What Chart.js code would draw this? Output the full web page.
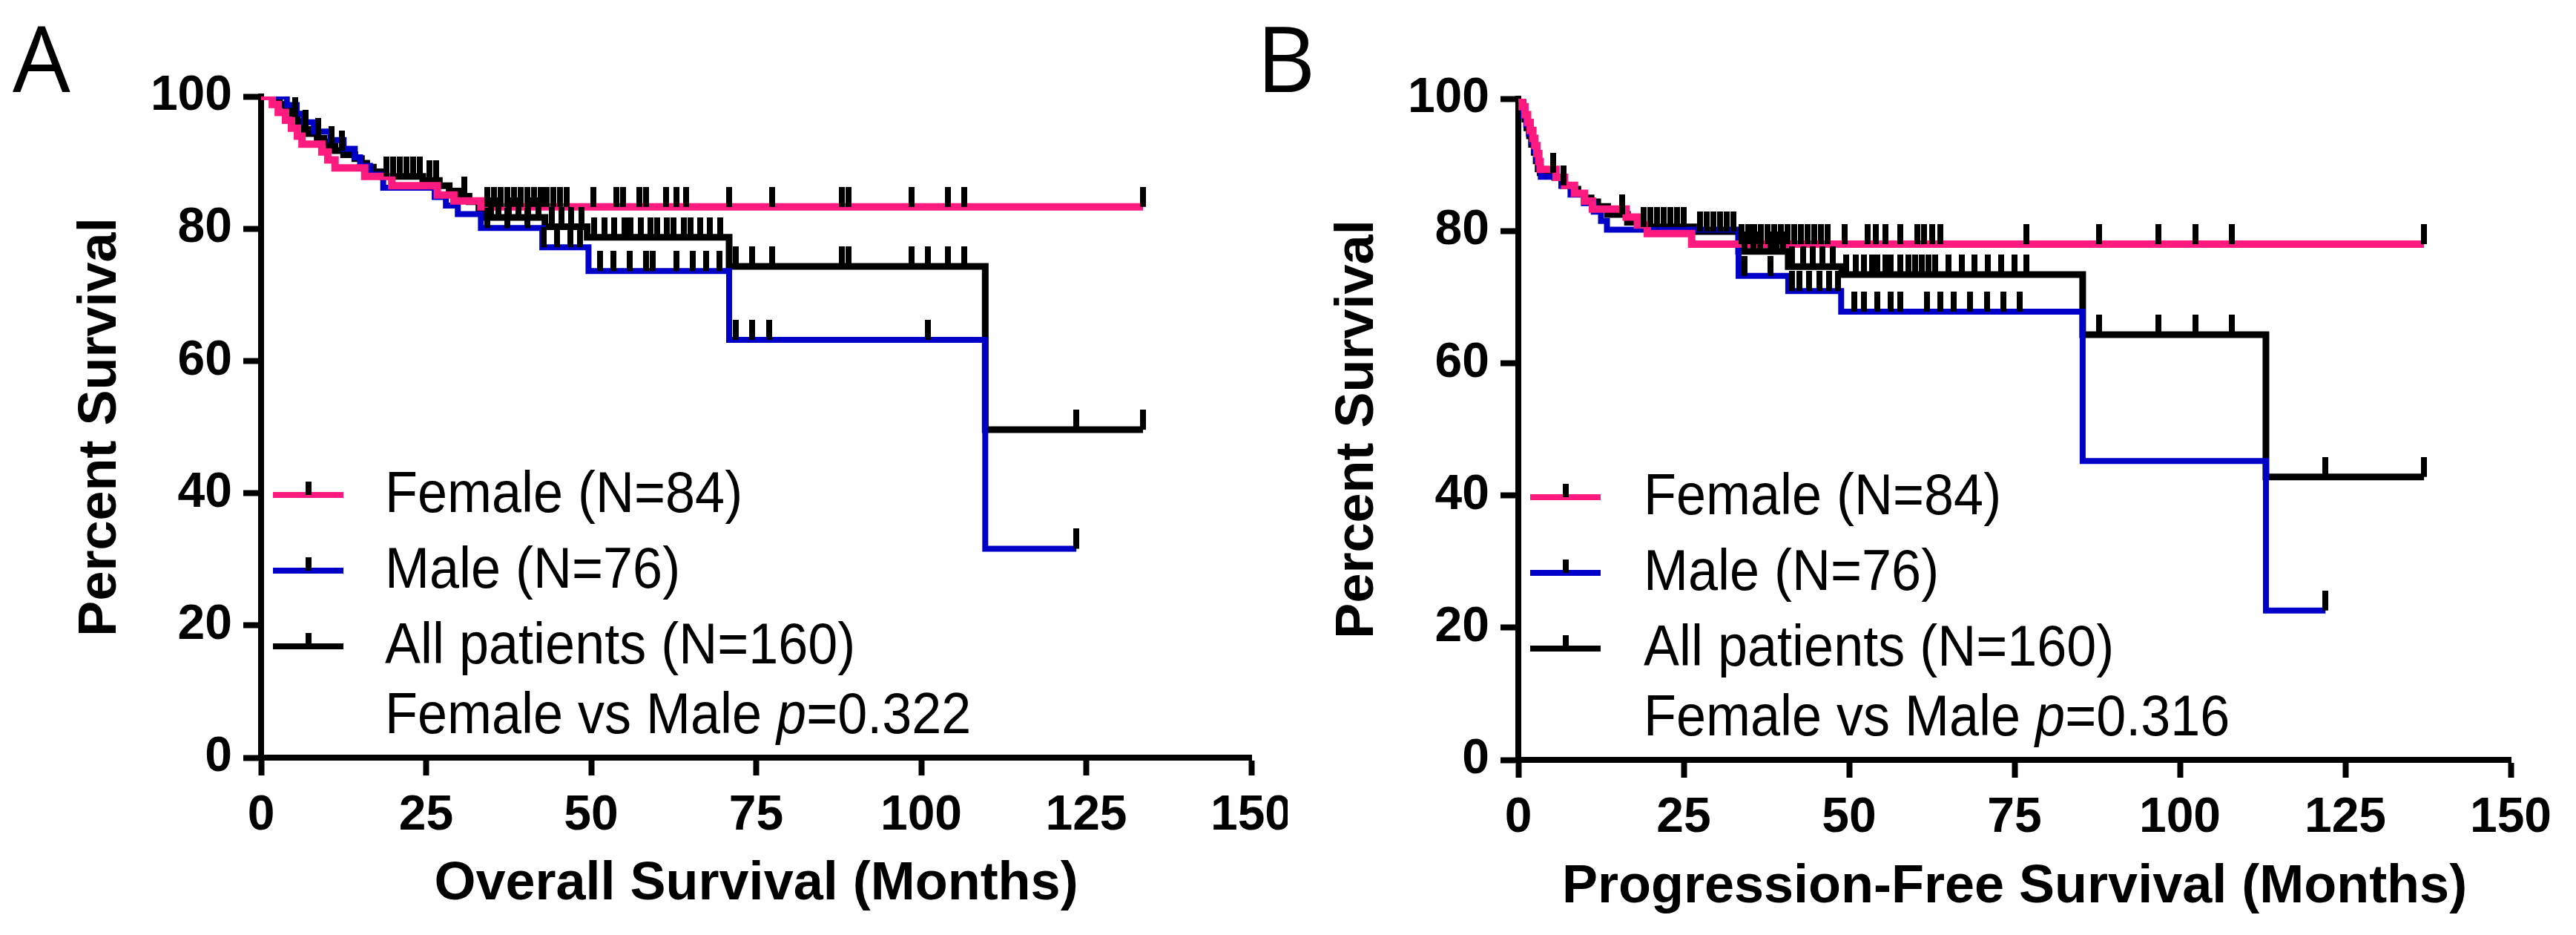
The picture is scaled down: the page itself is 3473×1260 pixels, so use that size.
<!DOCTYPE html>
<html>
<head>
<meta charset="utf-8">
<script src="https://cdn.jsdelivr.net/npm/chart.js@4.4.1/dist/chart.umd.min.js"></script>
<style>
  html, body { margin: 0; padding: 0; background: #fff; }
  body { width: 3473px; height: 1260px; position: relative; overflow: hidden; }
  canvas { position: absolute; top: 0; }
  #chartA { left: 0; }
  #chartB { left: 1736px; }
  .panel { position: absolute; top: 15px; font-family: "Open Sans", sans-serif; font-size: 123px; line-height: 123px; color: #000; }
</style>
</head>
<body>
<div class="panel" style="left:17px">A</div>
<div class="panel" style="left:1694px">B</div>
<canvas id="chartA" width="1736" height="1260"></canvas>
<canvas id="chartB" width="1737" height="1260"></canvas>
<script>
const xTicks = [0, 25, 50, 75, 100, 125, 150];
const yTicks = [0, 20, 40, 60, 80, 100];
const seriesLabels = ["Female (N=84)", "Male (N=76)", "All patients (N=160)"];
const seriesColors = ["#ff1a80", "#0000c8", "#000000"];
const seriesWidths = [10, 8, 9];

// Overall survival (A)
const osFemaleTimes = [1.7, 2.6, 3.7, 4.6, 5.5, 6.2, 9.2, 10.1, 11.2, 15.7, 19.8, 26.7, 29.2, 33.3];
const osFemaleSurv = [98.8, 97.6, 96.4, 95.2, 94.0, 92.8, 91.6, 90.4, 89.2, 87.9, 86.5, 85.1, 84.2, 83.3];
const osFemaleEnd = 133.6;
const osFemaleCensor = [34.3, 35.3, 36.3, 37.3, 38.3, 39.3, 40.3, 41.3, 42.4, 43.3, 44.3, 45.3, 46.3, 50.3, 53.8, 54.8, 57.3, 58.3, 61.3, 62.9, 64.4, 70.9, 77.4, 88.0, 89.0, 98.5, 104.0, 106.5, 133.6];

const osMaleTimes = [3.9, 5.4, 6.5, 8.0, 10.5, 12.5, 14.2, 15.0, 16.5, 18.5, 26.3, 28.0, 29.8, 33.3, 42.6, 49.6, 70.9, 109.7];
const osMaleSurv = [98.7, 97.4, 96.1, 94.7, 93.4, 92.1, 90.8, 89.5, 88.2, 86.2, 84.8, 83.5, 82.2, 80.1, 77.2, 73.6, 63.2, 31.6];
const osMaleEnd = 123.5;
const osMaleCensor = [34.3, 37.3, 40.3, 42.8, 44.8, 46.9, 48.3, 51.3, 53.4, 55.8, 58.3, 59.3, 62.9, 65.4, 67.4, 69.4, 71.9, 74.4, 77.0, 101.0, 123.5];

const osAllTimes = [2.0, 2.8, 3.7, 4.3, 4.8, 5.5, 6.3, 7.2, 8.5, 9.5, 10.3, 11.2, 12.5, 14.2, 15.2, 16.0, 17.0, 18.3, 24.5, 27.0, 28.5, 30.0, 31.5, 33.0, 34.0, 43.0, 49.4, 70.9, 109.7];
const osAllSurv = [99.4, 98.8, 98.1, 97.5, 96.9, 96.2, 95.0, 94.4, 93.7, 93.1, 92.5, 91.8, 91.2, 90.6, 89.9, 89.3, 88.6, 87.9, 87.3, 86.5, 85.7, 84.9, 84.1, 82.9, 81.7, 80.3, 78.7, 74.3, 49.6];
const osAllEnd = 133.6;
const osAllCensor = [5.2, 6.7, 8.7, 10.7, 12.2, 19.0, 20.0, 21.0, 22.0, 23.0, 24.0, 25.5, 26.5, 30.8, 34.8, 36.0, 37.5, 39.0, 40.5, 42.0, 44.0, 45.5, 47.0, 48.5, 50.5, 52.0, 53.5, 55.0, 56.0, 57.5, 59.0, 60.0, 61.5, 62.5, 64.0, 65.0, 66.5, 68.0, 69.5, 71.9, 74.4, 77.4, 88.0, 89.0, 98.5, 101.0, 104.0, 106.5, 123.5, 133.6];

// Progression-free survival (B)
const pfsFemaleTimes = [0.6, 1.0, 1.4, 1.8, 2.2, 2.5, 2.8, 3.1, 3.3, 5.7, 7.0, 8.5, 10.0, 11.2, 16.3, 18.0, 19.5, 26.2];
const pfsFemaleSurv = [98.8, 97.6, 96.4, 95.2, 94.0, 92.9, 91.7, 90.5, 89.3, 88.1, 86.9, 85.7, 84.5, 83.3, 82.1, 80.9, 79.6, 78.0];
const pfsFemaleEnd = 136.9;
const pfsFemaleCensor = [33.7, 34.7, 35.7, 36.7, 37.7, 38.7, 39.7, 40.7, 41.7, 42.7, 43.7, 44.7, 45.7, 46.7, 49.3, 52.8, 54.0, 55.5, 57.7, 60.3, 61.3, 62.5, 63.8, 76.8, 87.8, 96.8, 102.4, 107.8, 136.9];

const pfsMaleTimes = [0.3, 0.8, 1.2, 1.6, 2.0, 2.4, 2.8, 3.1, 3.4, 6.5, 7.9, 9.9, 11.4, 12.5, 13.4, 33.3, 40.8, 48.8, 85.3, 113.0];
const pfsMaleSurv = [98.7, 97.4, 96.1, 94.7, 93.4, 92.1, 90.8, 89.5, 88.2, 86.8, 85.5, 84.2, 82.9, 81.5, 80.2, 73.2, 70.9, 67.8, 45.2, 22.6];
const pfsMaleEnd = 122.0;
const pfsMaleCensor = [34.2, 38.1, 41.4, 42.5, 44.0, 45.5, 47.0, 48.3, 50.8, 52.2, 54.3, 56.3, 57.7, 61.8, 63.8, 65.8, 68.3, 70.9, 73.3, 75.8, 122.0];

const pfsAllTimes = [0.4, 0.7, 1.0, 1.3, 1.7, 2.0, 2.4, 2.7, 3.0, 3.3, 5.5, 6.8, 8.0, 9.0, 10.0, 11.0, 12.0, 13.5, 16.5, 18.5, 26.5, 33.3, 40.8, 48.9, 85.3, 113.0];
const pfsAllSurv = [99.4, 98.1, 96.9, 95.6, 94.4, 93.1, 91.9, 90.6, 89.4, 88.8, 88.1, 86.9, 86.3, 85.6, 85.0, 84.4, 83.7, 82.5, 81.3, 80.6, 79.9, 76.9, 74.6, 73.4, 64.3, 42.8];
const pfsAllEnd = 136.9;
const pfsAllCensor = [5.3, 6.8, 15.7, 19.0, 20.0, 21.0, 22.0, 23.0, 24.0, 25.0, 27.5, 28.5, 29.5, 30.5, 31.5, 32.5, 34.2, 35.5, 36.5, 38.1, 39.0, 40.0, 41.4, 43.0, 44.5, 46.0, 47.5, 49.5, 51.0, 52.2, 53.5, 54.3, 55.5, 56.3, 57.7, 59.0, 60.0, 61.0, 62.0, 63.0, 65.0, 67.0, 69.0, 71.0, 73.0, 75.0, 76.8, 87.8, 96.8, 102.4, 107.8, 122.0, 136.9];

const FONT = "'Liberation Sans', Arial, sans-serif";

function stepData(times, surv, end) {
  const pts = [{ x: 0, y: 100 }];
  times.forEach((t, i) => pts.push({ x: t, y: surv[i] }));
  pts.push({ x: end, y: surv[surv.length - 1] });
  return pts;
}

function levelAt(times, surv, t) {
  let s = 100;
  times.forEach((ti, i) => { if (ti <= t) s = surv[i]; });
  return s;
}

// censor tick: a short black bar standing on the curve
function censorMark() {
  const c = document.createElement("canvas");
  c.width = 8;
  c.height = 54;
  const g = c.getContext("2d");
  g.fillStyle = "#000";
  g.fillRect(0, 0, 8, 27);
  return c;
}
const mark = censorMark();

// legend text is slightly condensed in the original
function condensedText(ctx, text, x, y, font) {
  ctx.save();
  ctx.font = font;
  ctx.translate(x, y);
  ctx.scale(0.935, 1);
  ctx.fillText(text, 0, 0);
  const w = ctx.measureText(text).width * 0.935;
  ctx.restore();
  return w;
}

const kmLegend = {
  id: "kmLegend",
  afterDraw(chart, args, opts) {
    const { ctx, chartArea } = chart;
    const x0 = chartArea.left;
    const rows = [537, 639, 741];
    const regular = "77px " + FONT;
    ctx.save();
    ctx.textBaseline = "alphabetic";
    ctx.fillStyle = "#000";
    seriesLabels.forEach((label, i) => {
      const y = chartArea.top + rows[i];
      ctx.strokeStyle = seriesColors[i];
      ctx.lineWidth = 8;
      ctx.beginPath();
      ctx.moveTo(x0 + 16, y);
      ctx.lineTo(x0 + 111, y);
      ctx.stroke();
      ctx.fillRect(x0 + 60, y - 18, 8, 18);
      condensedText(ctx, label, x0 + opts.textX, y + 23, regular);
    });
    const py = chartArea.top + 858;
    let px = x0 + opts.textX;
    px += condensedText(ctx, "Female vs Male ", px, py, regular);
    px += condensedText(ctx, "p", px, py, "italic 77px " + FONT);
    condensedText(ctx, "=" + opts.pValue, px, py, regular);
    ctx.restore();
  }
};

function makeChart(id, cfg) {
  const sets = [];
  cfg.curves.forEach((c, i) => {
    sets.push({
      type: "line",
      label: seriesLabels[i],
      data: stepData(c.times, c.surv, c.end),
      stepped: true,
      borderColor: seriesColors[i],
      borderWidth: seriesWidths[i],
      borderCapStyle: "butt",
      borderJoinStyle: "miter",
      pointRadius: 0,
      fill: false,
      order: 1
    });
  });
  cfg.curves.forEach((c, i) => {
    sets.push({
      type: "scatter",
      label: seriesLabels[i] + " censored",
      data: c.censor.map(t => ({ x: t, y: levelAt(c.times, c.surv, t) })),
      pointStyle: mark,
      pointRadius: 3,
      clip: false,
      order: 0
    });
  });

  return new Chart(document.getElementById(id), {
    type: "line",
    data: { datasets: sets },
    plugins: [kmLegend],
    options: {
      responsive: false,
      animation: false,
      events: [],
      devicePixelRatio: 1,
      layout: { padding: cfg.padding },
      plugins: {
        legend: { display: false },
        tooltip: { enabled: false },
        kmLegend: { textX: cfg.textX, pValue: cfg.pValue }
      },
      scales: {
        x: {
          type: "linear",
          min: 0,
          max: 150,
          afterBuildTicks: s => { s.ticks = xTicks.map(v => ({ value: v })); },
          afterFit: s => { s.height = cfg.xHeight; s.paddingLeft = 0; s.paddingRight = 0; },
          ticks: { color: "#000", font: { family: FONT, size: 66, weight: "bold" }, padding: 15, maxRotation: 0, autoSkip: false },
          grid: { drawOnChartArea: false, tickLength: 24, tickWidth: 8, tickColor: "#000" },
          border: { display: true, width: 8, color: "#000" },
          title: { display: true, text: cfg.xTitle, color: "#000", font: { family: FONT, size: 72, weight: "bold" }, padding: { top: 0, bottom: cfg.xTitlePad } }
        },
        y: {
          min: 0,
          max: 100,
          afterBuildTicks: s => { s.ticks = yTicks.map(v => ({ value: v })); },
          afterFit: s => { s.width = 259; s.paddingTop = 0; s.paddingBottom = 0; },
          ticks: { color: "#000", font: { family: FONT, size: 66, weight: "bold" }, padding: 15 },
          grid: { drawOnChartArea: false, tickLength: 24, tickWidth: 8, tickColor: "#000" },
          border: { display: true, width: 8, color: "#000" },
          title: { display: true, text: "Percent Survival", color: "#000", font: { family: FONT, size: 72, weight: "bold" }, padding: { top: 0, bottom: 0 } }
        }
      }
    }
  });
}

makeChart("chartA", {
  curves: [
    { times: osFemaleTimes, surv: osFemaleSurv, end: osFemaleEnd, censor: osFemaleCensor },
    { times: osMaleTimes, surv: osMaleSurv, end: osMaleEnd, censor: osMaleCensor },
    { times: osAllTimes, surv: osAllSurv, end: osAllEnd, censor: osAllCensor }
  ],
  padding: { left: 93, right: 49, top: 130, bottom: 0 },
  xHeight: 239,
  xTitle: "Overall Survival (Months)",
  xTitlePad: 25,
  textX: 167,
  pValue: "0.322"
});

makeChart("chartB", {
  curves: [
    { times: pfsFemaleTimes, surv: pfsFemaleSurv, end: pfsFemaleEnd, censor: pfsFemaleCensor },
    { times: pfsMaleTimes, surv: pfsMaleSurv, end: pfsMaleEnd, censor: pfsMaleCensor },
    { times: pfsAllTimes, surv: pfsAllSurv, end: pfsAllEnd, censor: pfsAllCensor }
  ],
  padding: { left: 52, right: 88, top: 133, bottom: 0 },
  xHeight: 236,
  xTitle: "Progression-Free Survival (Months)",
  xTitlePad: 21,
  textX: 169,
  pValue: "0.316"
});
</script>
</body>
</html>
